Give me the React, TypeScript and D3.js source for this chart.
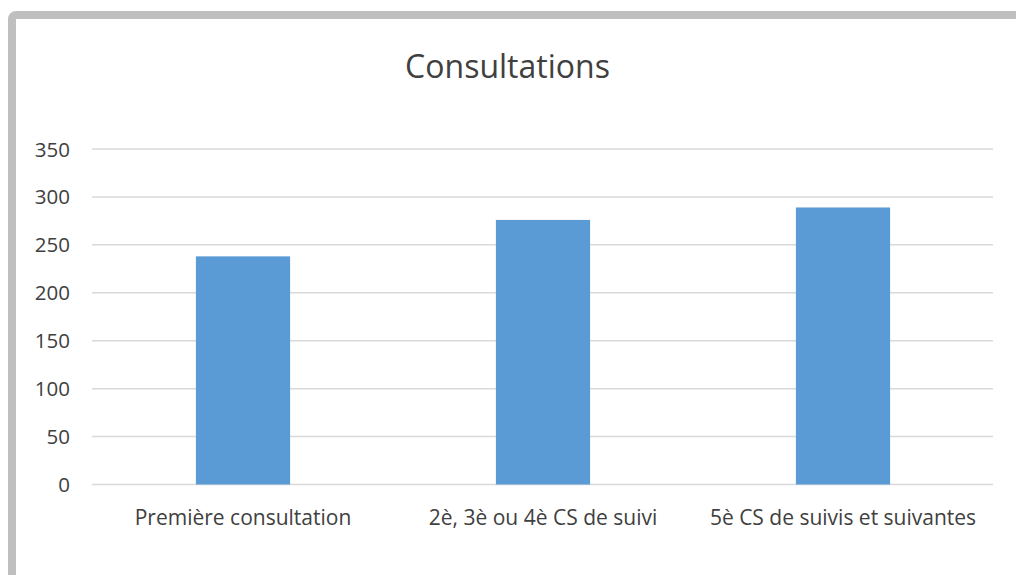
import React from "react";
import * as d3 from "d3";

const categories: string[] = [
  "Première consultation",
  "2è, 3è ou 4è CS de suivi",
  "5è CS de suivis et suivantes",
];
const values: number[] = [238, 276, 289];
const yTicks: number[] = [0, 50, 100, 150, 200, 250, 300, 350];
const title = "Consultations";

const W = 1016;
const H = 575;
const plot = { left: 93, right: 993, top: 149, bottom: 484.5 };
const textColor = "#404040";
const font = "'Open Sans', sans-serif";

export default function App() {
  const x = d3
    .scaleBand<string>()
    .domain(categories)
    .range([plot.left, plot.right])
    .paddingInner(0.686)
    .paddingOuter(0.343);
  const y = d3.scaleLinear().domain([0, 350]).range([plot.bottom, plot.top]);

  return (
    <svg
      width={W}
      height={H}
      style={{ position: "absolute", left: 0, top: 0, display: "block" }}
      fontFamily={font}
    >
      <rect x={0} y={0} width={W} height={H} fill="#ffffff" />
      {/* chart frame */}
      <rect
        x={12}
        y={15}
        width={1200}
        height={800}
        rx={4}
        fill="#ffffff"
        stroke="#BFBFBF"
        strokeWidth={8}
      />
      <text
        x={507.5}
        y={78}
        textAnchor="middle"
        fontSize={32}
        fill={textColor}
      >
        {title}
      </text>
      {/* gridlines and y tick labels */}
      {yTicks.map((t) => (
        <g key={t}>
          <line
            x1={plot.left - 1}
            x2={plot.right}
            y1={y(t)}
            y2={y(t)}
            stroke="#D9D9D9"
            strokeWidth={1.5}
          />
          <text
            x={70}
            y={y(t) + 7.5}
            textAnchor="end"
            fontSize={20.5}
            fill={textColor}
          >
            {t}
          </text>
        </g>
      ))}
      {/* bars */}
      {categories.map((c, i) => (
        <rect
          key={c}
          x={x(c)}
          y={y(values[i])}
          width={x.bandwidth()}
          height={y(0) - y(values[i])}
          fill="#5B9BD5"
        />
      ))}
      {/* category labels */}
      {categories.map((c) => (
        <text
          key={c}
          x={(x(c) as number) + x.bandwidth() / 2}
          y={525}
          textAnchor="middle"
          fontSize={21}
          fill={textColor}
        >
          {c}
        </text>
      ))}
    </svg>
  );
}
